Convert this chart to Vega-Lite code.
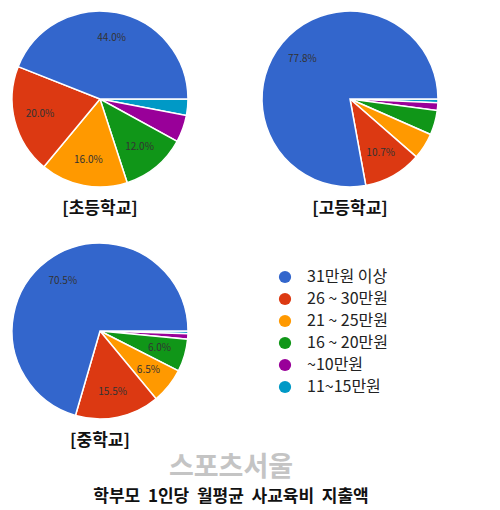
{
  "$schema": "https://vega.github.io/schema/vega-lite/v6.json",
  "padding": {"left": 5, "top": 4, "right": 5, "bottom": 5},
  "background": "white",
  "data": {
    "values": [
      {"school": "[초등학교]", "cat": "11~15만원", "k": 1, "share": 0.03},
      {"school": "[초등학교]", "cat": "~10만원", "k": 2, "share": 0.05},
      {"school": "[초등학교]", "cat": "16 ~ 20만원", "k": 3, "share": 0.12},
      {"school": "[초등학교]", "cat": "21 ~ 25만원", "k": 4, "share": 0.16},
      {"school": "[초등학교]", "cat": "26 ~ 30만원", "k": 5, "share": 0.20},
      {"school": "[초등학교]", "cat": "31만원 이상", "k": 6, "share": 0.44},
      {"school": "[고등학교]", "cat": "11~15만원", "k": 1, "share": 0.007},
      {"school": "[고등학교]", "cat": "~10만원", "k": 2, "share": 0.014},
      {"school": "[고등학교]", "cat": "16 ~ 20만원", "k": 3, "share": 0.045},
      {"school": "[고등학교]", "cat": "21 ~ 25만원", "k": 4, "share": 0.048},
      {"school": "[고등학교]", "cat": "26 ~ 30만원", "k": 5, "share": 0.107},
      {"school": "[고등학교]", "cat": "31만원 이상", "k": 6, "share": 0.778},
      {"school": "[중학교]", "cat": "11~15만원", "k": 1, "share": 0.005},
      {"school": "[중학교]", "cat": "~10만원", "k": 2, "share": 0.01},
      {"school": "[중학교]", "cat": "16 ~ 20만원", "k": 3, "share": 0.06},
      {"school": "[중학교]", "cat": "21 ~ 25만원", "k": 4, "share": 0.065},
      {"school": "[중학교]", "cat": "26 ~ 30만원", "k": 5, "share": 0.155},
      {"school": "[중학교]", "cat": "31만원 이상", "k": 6, "share": 0.705}
    ]
  },
  "facet": {
    "field": "school",
    "type": "nominal",
    "sort": ["[초등학교]", "[고등학교]", "[중학교]"],
    "header": {
      "title": null,
      "labelOrient": "bottom",
      "labelFont": "Noto Sans CJK KR",
      "labelFontSize": 17,
      "labelFontWeight": "bold",
      "labelColor": "#111",
      "labelPadding": 7
    }
  },
  "columns": 2,
  "spacing": {"column": 60, "row": 19},
  "title": {
    "text": "스포츠서울",
    "subtitle": "학부모\u00a0 1인당\u00a0 월평균\u00a0 사교육비\u00a0 지출액",
    "orient": "bottom",
    "anchor": "middle",
    "dx": 6,
    "font": "Noto Sans CJK KR",
    "fontSize": 27,
    "fontWeight": "bold",
    "color": "#c4c4c4",
    "subtitleFont": "Noto Sans CJK KR",
    "subtitleFontSize": 17,
    "subtitleFontWeight": "bold",
    "subtitleColor": "#111",
    "subtitlePadding": 7,
    "offset": 6
  },
  "spec": {
    "width": 190,
    "height": 190,
    "encoding": {
      "theta": {"field": "share", "type": "quantitative", "stack": "normalize", "scale": {"range": [1.5708, 7.854]}},
      "order": {"field": "k", "type": "quantitative"}
    },
    "layer": [
      {
        "mark": {"type": "arc", "outerRadius": 88, "stroke": "white", "strokeWidth": 1.5},
        "encoding": {
          "color": {
            "field": "cat",
            "type": "nominal",
            "scale": {
              "domain": ["31만원 이상", "26 ~ 30만원", "21 ~ 25만원", "16 ~ 20만원", "~10만원", "11~15만원"],
              "range": ["#3366cc", "#dc3912", "#ff9900", "#109618", "#990099", "#0099c6"]
            },
            "legend": {
              "title": null,
              "orient": "none",
              "legendX": 272,
              "legendY": 265,
              "symbolType": "circle",
              "symbolSize": 150,
              "symbolStrokeWidth": 0,
              "rowPadding": 6,
              "labelFont": "Noto Sans CJK KR",
              "labelFontSize": 16,
              "labelColor": "#222",
              "labelOffset": 14
            }
          }
        }
      },
      {
        "mark": {"type": "text", "radius": 62, "font": "Noto Sans CJK KR", "fontSize": 10, "color": "#333"},
        "encoding": {
          "text": {
            "condition": {"test": "datum.share < 0.055", "value": ""},
            "field": "share",
            "type": "quantitative",
            "format": ".1%"
          }
        }
      }
    ]
  },
  "config": {"view": {"stroke": null}}
}
